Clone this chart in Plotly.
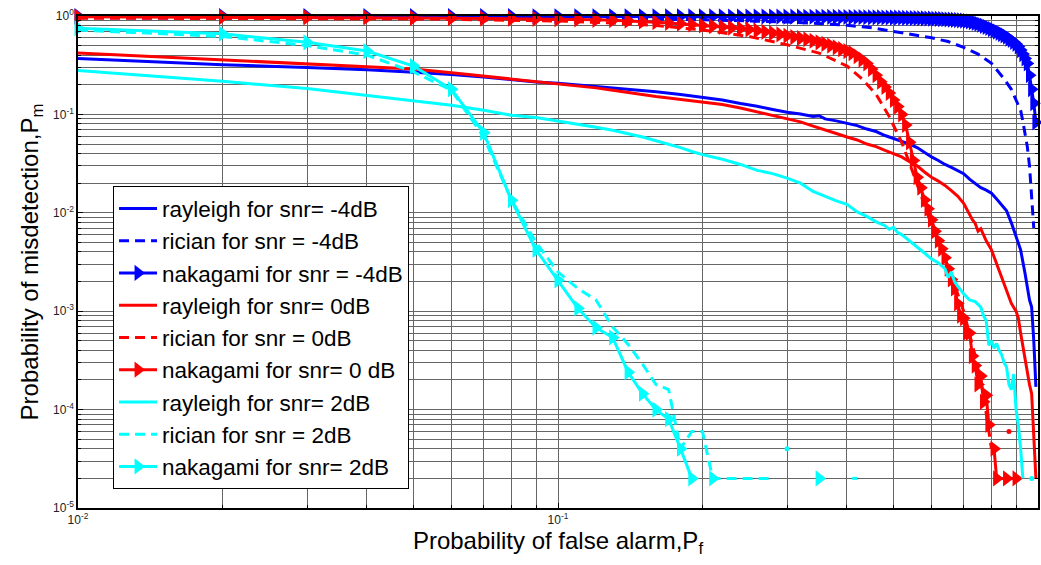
import plotly.graph_objects as go

# ---------------- data ----------------
PF_GRID = [0.01, 0.02, 0.03, 0.04, 0.05, 0.06, 0.07, 0.08, 0.09, 0.10,
           0.11, 0.12, 0.13, 0.14, 0.15, 0.16, 0.17, 0.18, 0.19, 0.20,
           0.21, 0.22, 0.23, 0.24, 0.25, 0.26, 0.27, 0.28, 0.29, 0.30,
           0.31, 0.32, 0.33, 0.34, 0.35, 0.36, 0.37, 0.38, 0.39, 0.40,
           0.41, 0.42, 0.43, 0.44, 0.45, 0.46, 0.47, 0.48, 0.49, 0.50,
           0.51, 0.52, 0.53, 0.54, 0.55, 0.56, 0.57, 0.58, 0.59, 0.60,
           0.61, 0.62, 0.63, 0.64, 0.65, 0.66, 0.67, 0.68, 0.69, 0.70,
           0.71, 0.72, 0.73, 0.74, 0.75, 0.76, 0.77, 0.78, 0.79, 0.80,
           0.81, 0.82, 0.83, 0.84, 0.85, 0.86, 0.87, 0.88, 0.89, 0.90,
           0.91, 0.92, 0.93, 0.94, 0.95, 0.96, 0.97, 0.98, 0.99, 1.00]

# rayleigh, snr = -4 dB
pf_ray_m4 = [0.01, 0.02, 0.03, 0.04, 0.05, 0.06, 0.07, 0.08, 0.09, 0.10,
             0.12, 0.14, 0.16, 0.18, 0.20, 0.22, 0.24, 0.26, 0.28, 0.30, 0.32, 0.34,
             0.35,
             0.36, 0.38, 0.40, 0.42, 0.44, 0.46, 0.48, 0.50, 0.52, 0.54, 0.56, 0.58,
             0.60, 0.62, 0.64, 0.66, 0.68, 0.70, 0.72, 0.74, 0.76, 0.78, 0.80, 0.82,
             0.84, 0.86, 0.88, 0.90, 0.92, 0.94, 0.96,
             0.97, 0.98, 0.99]
pm_ray_m4 = [0.37, 0.32, 0.30, 0.285, 0.268, 0.255, 0.24, 0.224, 0.214, 0.207,
             0.193, 0.181, 0.170, 0.159, 0.149, 0.140, 0.129, 0.121, 0.112, 0.105, 0.101, 0.095,
             0.097,
             0.090, 0.086, 0.081, 0.077, 0.071, 0.067, 0.061, 0.057, 0.053, 0.050, 0.046, 0.041,
             0.037, 0.034, 0.031, 0.029, 0.027, 0.025, 0.022, 0.020, 0.018, 0.017, 0.0158, 0.0138,
             0.0120, 0.0105, 0.0079, 0.0056, 0.0042, 0.0024, 0.0013,
             0.0011, 0.0005, 0.00017]

# rician, snr = -4 dB
pf_ric_m4 = [0.01, 0.05, 0.10, 0.15, 0.20, 0.25, 0.30, 0.35, 0.40, 0.45, 0.50, 0.55, 0.60,
             0.65, 0.70, 0.75, 0.80, 0.85, 0.88, 0.90, 0.92, 0.93, 0.94, 0.95, 0.96, 0.97, 0.98]
pm_ric_m4 = [0.96, 0.95, 0.94, 0.93, 0.915, 0.895, 0.87, 0.84, 0.805, 0.76, 0.70, 0.65, 0.60,
             0.55, 0.48, 0.41, 0.33, 0.23, 0.18, 0.14, 0.11, 0.085, 0.065, 0.047, 0.030, 0.015, 0.007]

# nakagami, snr = -4 dB
pf_nak_m4 = PF_GRID[:99]
pm_nak_m4 = [0.998, 0.998, 0.997, 0.997, 0.997, 0.996, 0.996, 0.996, 0.995, 0.995,
             0.995, 0.994, 0.994, 0.993, 0.993, 0.993, 0.992, 0.992, 0.991, 0.991,
             0.990, 0.990, 0.989, 0.989, 0.988, 0.988, 0.987, 0.986, 0.986, 0.985,
             0.984, 0.984, 0.983, 0.982, 0.981, 0.980, 0.979, 0.978, 0.977, 0.976,
             0.975, 0.974, 0.973, 0.972, 0.970, 0.969, 0.968, 0.966, 0.965, 0.963,
             0.961, 0.959, 0.957, 0.955, 0.953, 0.951, 0.948, 0.946, 0.943, 0.940,
             0.937, 0.934, 0.930, 0.926, 0.922, 0.918, 0.913, 0.908, 0.902, 0.896,
             0.890, 0.880, 0.865, 0.850, 0.835, 0.815, 0.795, 0.775, 0.755, 0.735,
             0.715, 0.695, 0.675, 0.655, 0.635, 0.615, 0.590, 0.570, 0.545, 0.520,
             0.490, 0.450, 0.410, 0.370, 0.330, 0.250, 0.180, 0.130, 0.083]

# rayleigh, snr = 0 dB
pf_ray_0 = [0.01, 0.02, 0.03, 0.04, 0.05, 0.06, 0.07, 0.08, 0.09, 0.10,
            0.11, 0.12, 0.13, 0.14, 0.15, 0.16, 0.17, 0.18, 0.19, 0.20,
            0.22, 0.24, 0.26, 0.28, 0.30, 0.32, 0.34, 0.36, 0.38, 0.40,
            0.42, 0.44, 0.46, 0.48, 0.50, 0.52, 0.54, 0.56, 0.58, 0.60,
            0.62, 0.64, 0.66, 0.68, 0.70, 0.72,
            0.73, 0.74, 0.75, 0.76,
            0.78, 0.80, 0.82, 0.84, 0.86, 0.88, 0.90,
            0.91, 0.92, 0.93, 0.94, 0.95, 0.96, 0.97, 0.98, 0.99]
pm_ray_0 = [0.42, 0.36, 0.33, 0.31, 0.29, 0.265, 0.245, 0.228, 0.217, 0.205,
            0.195, 0.186, 0.176, 0.166, 0.158, 0.152, 0.147, 0.142, 0.138, 0.134,
            0.126, 0.116, 0.106, 0.099, 0.091, 0.084, 0.076, 0.070, 0.064, 0.059,
            0.055, 0.050, 0.047, 0.043, 0.040, 0.037, 0.033, 0.030, 0.026, 0.023,
            0.021, 0.019, 0.0168, 0.0148, 0.0125, 0.0094,
            0.0085, 0.0078, 0.0065, 0.0069,
            0.0052, 0.0042, 0.0030, 0.0022, 0.0016, 0.0012, 0.0010,
            0.00085, 0.0006, 0.00043, 0.00033, 0.00024, 0.00018, 0.000145, 0.00006, 0.00002]

# rician, snr = 0 dB
pf_ric_0 = [0.01, 0.05, 0.10, 0.13, 0.16, 0.20, 0.25, 0.30, 0.35, 0.40, 0.43, 0.46, 0.49,
            0.52, 0.54, 0.56, 0.58, 0.60, 0.63, 0.66, 0.70, 0.74, 0.77, 0.80, 0.81, 0.87]
pm_ric_0 = [0.95, 0.935, 0.89, 0.85, 0.80, 0.72, 0.62, 0.51, 0.42, 0.31, 0.23, 0.16, 0.095,
            0.052, 0.032, 0.019, 0.012, 0.0075, 0.0042, 0.0023, 0.0010, 0.00035, 0.00014, 0.00004,
            None, 0.00006]

# nakagami, snr = 0 dB
pf_nak_0 = PF_GRID[:79] + [0.80, 0.81, 0.82, 0.86, 0.90]
pm_nak_0 = [0.98, 0.975, 0.97, 0.965, 0.955, 0.95, 0.945, 0.94, 0.935, 0.93,
            0.925, 0.915, 0.905, 0.895, 0.88, 0.865, 0.85, 0.835, 0.82, 0.80,
            0.79, 0.775, 0.76, 0.745, 0.73, 0.71, 0.69, 0.67, 0.65, 0.63,
            0.61, 0.595, 0.58, 0.56, 0.54, 0.52, 0.50, 0.48, 0.46, 0.44,
            0.42, 0.39, 0.36, 0.33, 0.29, 0.25, 0.215, 0.19, 0.165, 0.14,
            0.12, 0.10, 0.078, 0.052, 0.034, 0.023, 0.018, 0.0135, 0.011, 0.0085,
            0.0065, 0.0052, 0.0043, 0.0035, 0.0027, 0.0021, 0.0017, 0.0012, 0.0009, 0.00085,
            0.0006, 0.0006, 0.00035, 0.00028, 0.00018, 0.00022, 0.00012, 0.00014, 0.00007,
            None, 0.00004, 0.00002, 0.00002, 0.00002]

# rayleigh, snr = 2 dB
pf_ray_2 = PF_GRID[:20] + [0.22, 0.24, 0.26, 0.28, 0.30, 0.32, 0.34, 0.36, 0.38, 0.40,
                           0.42, 0.44, 0.46, 0.48,
                           0.49, 0.50, 0.51, 0.52,
                           0.54, 0.56, 0.58, 0.60, 0.62, 0.64,
                           0.65, 0.66, 0.67, 0.68,
                           0.70, 0.72, 0.74, 0.76] + PF_GRID[76:93] + [0.94, 0.97]
pm_ray_2 = [0.28, 0.217, 0.183, 0.156, 0.136, 0.124, 0.110, 0.098, 0.093, 0.086,
            0.080, 0.074, 0.069, 0.064, 0.059, 0.054, 0.050, 0.046, 0.042, 0.039,
            0.035, 0.031, 0.027, 0.025, 0.0225, 0.020, 0.0165, 0.0148, 0.0132, 0.0122,
            0.0102, 0.0092, 0.0081, 0.0074,
            0.0068, 0.0071, 0.0063, 0.0060,
            0.0052, 0.0045, 0.0039, 0.0034, 0.0031, 0.0027,
            0.0022, 0.0025, 0.0020, 0.0018,
            0.0015, 0.0013, 0.00125, 0.0011,
            0.0009, 0.0008, 0.00045, 0.0005, 0.00042, 0.00047, 0.0004, 0.00036, 0.0003,
            0.00027, 0.00018, 0.00016, 0.00023, 0.0001, 0.00007, 0.00004, 0.00002,
            None, 0.00002]

# rician, snr = 2 dB
pf_ric_2 = PF_GRID[:28] + [0.29, 0.30, 0.31, 0.41, 0.42]
pm_ric_2 = [0.72, 0.62, 0.50, 0.40, 0.27, 0.176, 0.059, 0.0135, 0.005, 0.0025,
            0.0017, 0.0013, 0.00069, 0.00046, 0.00029, 0.00018, 0.00016, 0.00004, 0.00006, 0.00006,
            0.00002, 0.00002, 0.00002, 0.00002, 0.00002, 0.00002, 0.00002, 0.00002,
            None, 0.00004, None, 0.00002, 0.00002]

# nakagami, snr = 2 dB
pf_nak_2 = PF_GRID[:22] + [0.35]
pm_nak_2 = [0.75, 0.66, 0.54, 0.44, 0.31, 0.18, 0.065, 0.0134, 0.0042, 0.00206,
            0.00107, 0.00068, 0.00054, 0.00024, 0.000145, 0.0001, 0.00008, 0.00004, 0.00002,
            None, 0.00002, None, 0.00002]

legend_names = ["rayleigh for snr= -4dB", "rician for snr = -4dB", "nakagami for snr = -4dB",
                "rayleigh for snr= 0dB", "rician for snr = 0dB", "nakagami for snr= 0 dB",
                "rayleigh for snr= 2dB", "rician for snr = 2dB", "nakagami for snr= 2dB"]

x_tick_vals = [0.01, 0.1, 1]
x_tick_text = ["10<sup>-2</sup>", "10<sup>-1</sup>", "10<sup>0</sup>"]
y_tick_vals = [1e-5, 1e-4, 1e-3, 1e-2, 1e-1, 1]
y_tick_text = ["10<sup>-5</sup>", "10<sup>-4</sup>", "10<sup>-3</sup>",
               "10<sup>-2</sup>", "10<sup>-1</sup>", "10<sup>0</sup>"]

# ---------------- figure ----------------
BLUE, RED, CYAN = "#0000FF", "#FF0000", "#00FFFF"
DASH = "10px,6px"
LW = 3

series = [
    (pf_ray_m4, pm_ray_m4, BLUE, "solid", False),
    (pf_ric_m4, pm_ric_m4, BLUE, DASH, False),
    (pf_nak_m4, pm_nak_m4, BLUE, "solid", True),
    (pf_ray_0, pm_ray_0, RED, "solid", False),
    (pf_ric_0, pm_ric_0, RED, DASH, False),
    (pf_nak_0, pm_nak_0, RED, "solid", True),
    (pf_ray_2, pm_ray_2, CYAN, "solid", False),
    (pf_ric_2, pm_ric_2, CYAN, DASH, False),
    (pf_nak_2, pm_nak_2, CYAN, "solid", True),
]


def isolated_points(xs, ys):
    ox, oy = [], []
    for i, y in enumerate(ys):
        if y is None:
            continue
        prev_gap = i == 0 or ys[i - 1] is None
        next_gap = i == len(ys) - 1 or ys[i + 1] is None
        if prev_gap and next_gap:
            ox.append(xs[i])
            oy.append(y)
    return ox, oy


fig = go.Figure()
for (xs, ys, color, dash, mark), name in zip(series, legend_names):
    assert len(xs) == len(ys), name
    if mark:
        fig.add_trace(go.Scatter(
            x=xs, y=ys, name=name, mode="lines+markers",
            line=dict(color=color, width=LW, dash=dash),
            marker=dict(symbol="triangle-right", size=14, color=color,
                        line=dict(width=0)),
            connectgaps=False, cliponaxis=False))
    else:
        fig.add_trace(go.Scatter(
            x=xs, y=ys, name=name, mode="lines",
            line=dict(color=color, width=LW, dash=dash),
            connectgaps=False))
        ix, iy = isolated_points(xs, ys)
        if ix:
            fig.add_trace(go.Scatter(
                x=ix, y=iy, mode="markers", showlegend=False, hoverinfo="skip",
                marker=dict(symbol="circle", size=5, color=color)))

minor_x = [m * 10.0 ** e for e in (-2, -1) for m in range(2, 10)]
minor_y = [m * 10.0 ** e for e in range(-5, 0) for m in range(2, 10)]
GRID = "#666666"
FONT = "Liberation Sans, Arial, sans-serif"

axis_common = dict(
    type="log", showline=True, linecolor="black", linewidth=1.5, mirror="ticks",
    ticks="inside", ticklen=5, tickcolor="black", tickwidth=1,
    showgrid=True, gridcolor=GRID, gridwidth=1, zeroline=False, automargin=False,
    tickfont=dict(family=FONT, size=12, color="#222222"),
)

fig.update_xaxes(
    **axis_common, range=[-2, 0], tickmode="array",
    tickvals=x_tick_vals, ticktext=x_tick_text,
    minor=dict(tickmode="array", tickvals=minor_x, ticks="inside", ticklen=3,
               tickcolor="black", showgrid=True, gridcolor=GRID, gridwidth=1),
    title=dict(text="Probability of false alarm,P<sub>f</sub>",
               font=dict(family=FONT, size=24, color="black"), standoff=6),
)
fig.update_yaxes(
    **axis_common, range=[-5, 0], tickmode="array",
    tickvals=y_tick_vals, ticktext=y_tick_text,
    minor=dict(tickmode="array", tickvals=minor_y, ticks="inside", ticklen=3,
               tickcolor="black", showgrid=True, gridcolor=GRID, gridwidth=1),
    title=dict(text="Probability of misdetection,P<sub>m</sub>",
               font=dict(family=FONT, size=24, color="black"), standoff=8),
)

fig.update_layout(
    width=1041, height=565, autosize=False,
    margin=dict(l=78, r=3, t=16, b=57),
    paper_bgcolor="white", plot_bgcolor="white",
    font=dict(family=FONT, color="black"),
    legend=dict(x=0.0365, y=0.346, xanchor="left", yanchor="middle",
                bgcolor="white", bordercolor="black", borderwidth=1,
                font=dict(family=FONT, size=22.5, color="black"),
                tracegroupgap=0, itemwidth=38),
    showlegend=True,
)

fig.write_html("out.html",
               config={"displayModeBar": False},
               post_script="document.body.style.margin='0px';"
                           "document.body.style.overflow='hidden';")
